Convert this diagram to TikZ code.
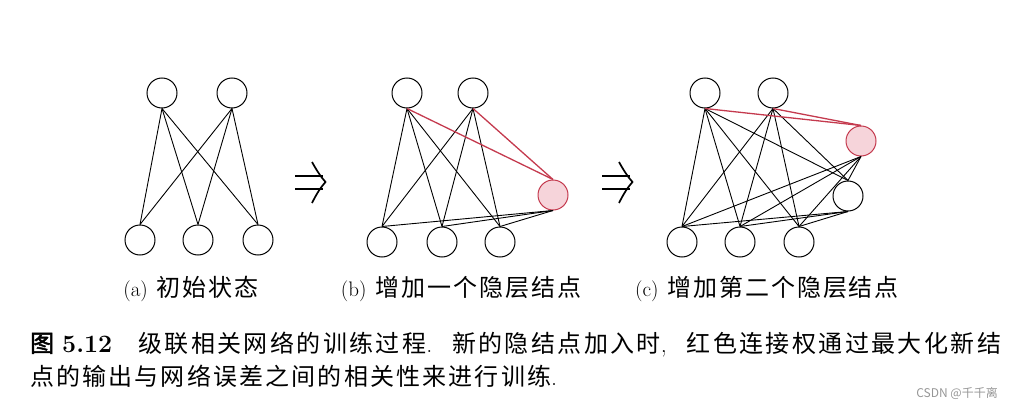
\documentclass[tikz,border=0pt]{standalone}
\usepackage{fontspec}
\newfontfamily\cjk[LetterSpace=8]{Noto Sans CJK SC}
\newfontfamily\cjkw[LetterSpace=10]{Noto Sans CJK SC}
\newfontfamily\cjkn[LetterSpace=9]{Noto Sans CJK SC}
\newfontfamily\cjkb[LetterSpace=8,FakeBold=2]{Noto Sans CJK SC}
\newfontfamily\wmfont{Noto Sans CJK SC}
\definecolor{rline}{RGB}{196,58,78}
\definecolor{rfill}{RGB}{246,212,218}
\definecolor{wmgray}{RGB}{150,150,150}
\begin{document}
\begin{tikzpicture}[x=1pt,y=-1pt,
  unit/.style={circle,draw,line width=1pt,minimum size=30pt,inner sep=0pt},
  newunit/.style={unit,draw=rline,fill=rfill},
  edge/.style={line width=0.9pt},
  redge/.style={line width=1.3pt,draw=rline},
  lbl/.style={anchor=base,inner sep=0pt,font=\fontsize{24}{28}\selectfont},
  captext/.style={anchor=base west,inner sep=0pt,font=\fontsize{24}{28}\selectfont},
  dblarrow/.pic={
    \draw[line width=2pt] (-15,-6.5) -- (13,-6.5) (-15,6.5) -- (13,6.5);
    \draw[line width=1.7pt,line join=miter] (2,-20) .. controls (7,-11) and (11,-5) .. (15.5,0)
                                     .. controls (11,5) and (7,11) .. (2,21);
  }
]
\useasboundingbox (0,0) rectangle (1022,404);
% panel (a)
\node[unit] (at1) at (162,93) {};
\node[unit] (at2) at (232,93) {};
\node[unit] (ab1) at (140,240) {};
\node[unit] (ab2) at (198,240) {};
\node[unit] (ab3) at (258,240) {};
\foreach \t in {t1,t2}
  \foreach \b in {b1,b2,b3}
    \draw[edge] (a\t.south) -- (a\b.north);
% panel (b)
\node[unit] (bt1) at (407,93) {};
\node[unit] (bt2) at (473,93) {};
\node[unit] (bb1) at (382,242) {};
\node[unit] (bb2) at (442,242) {};
\node[unit] (bb3) at (500,242) {};
\node[newunit] (bh) at (553,195) {};
\foreach \t in {t1,t2}
  \foreach \b in {b1,b2,b3}
    \draw[edge] (b\t.south) -- (b\b.north);
\foreach \b in {b1,b2,b3}
  \draw[edge] (bh.south) -- (b\b.north);
\draw[redge] (bt1.south) -- (bh.north);
\draw[redge] (bt2.south) -- (bh.north);
% panel (c)
\node[unit] (ct1) at (705,93) {};
\node[unit] (ct2) at (773,93) {};
\node[unit] (cb1) at (682,242) {};
\node[unit] (cb2) at (740,242) {};
\node[unit] (cb3) at (799,242) {};
\node[unit] (ch1) at (848,196) {};
\node[newunit] (ch2) at (861,141) {};
\foreach \t in {t1,t2}
  \foreach \b in {b1,b2,b3,h1}
    \draw[edge] (c\t.south) -- (c\b.north);
\foreach \b in {b1,b2,b3}
  \draw[edge] (ch1.south) -- (c\b.north);
\foreach \b in {b1,b2,b3,h1}
  \draw[edge] (ch2.south) -- (c\b.north);
\draw[redge] (ct1.south) -- (ch2.north);
\draw[redge] (ct2.south) -- (ch2.north);
% arrows
\pic at (310,182) {dblarrow};
\pic at (617,182) {dblarrow};
% labels
\node[lbl] (la) at (191,296) {{\fontsize{21}{24}\selectfont (a)}\hspace{9pt}{\cjk 初始状态}};
\node[lbl] (lb) at (461,296) {{\fontsize{21}{24}\selectfont (b)}\hspace{9pt}{\cjk 增加一个隐层结点}};
\node[lbl] (lc) at (767,296) {{\fontsize{21}{24}\selectfont (c)}\hspace{9pt}{\cjk 增加第二个隐层结点}};
% caption
\node[captext] (cap1) at (30,352) {\makebox[971pt][l]{{\cjkb 图}\hspace{8pt}{\fontsize{25}{28}\selectfont\bfseries 5.12}\hspace{26pt}{\cjkw 级联相关网络的训练过程}.\hfill{\cjkw 新的隐结点加入时},\hfill{\cjkw 红色连接权通过最大化新结}}};
\node[captext] (cap2) at (30,385) {{\cjkn 点的输出与网络误差之间的相关性来进行训练}.};
\node[anchor=base east,inner sep=0pt,text=wmgray,font=\wmfont\fontsize{12}{14}\selectfont] (wm) at (998,397) {CSDN @千千离};
\end{tikzpicture}
\end{document}
